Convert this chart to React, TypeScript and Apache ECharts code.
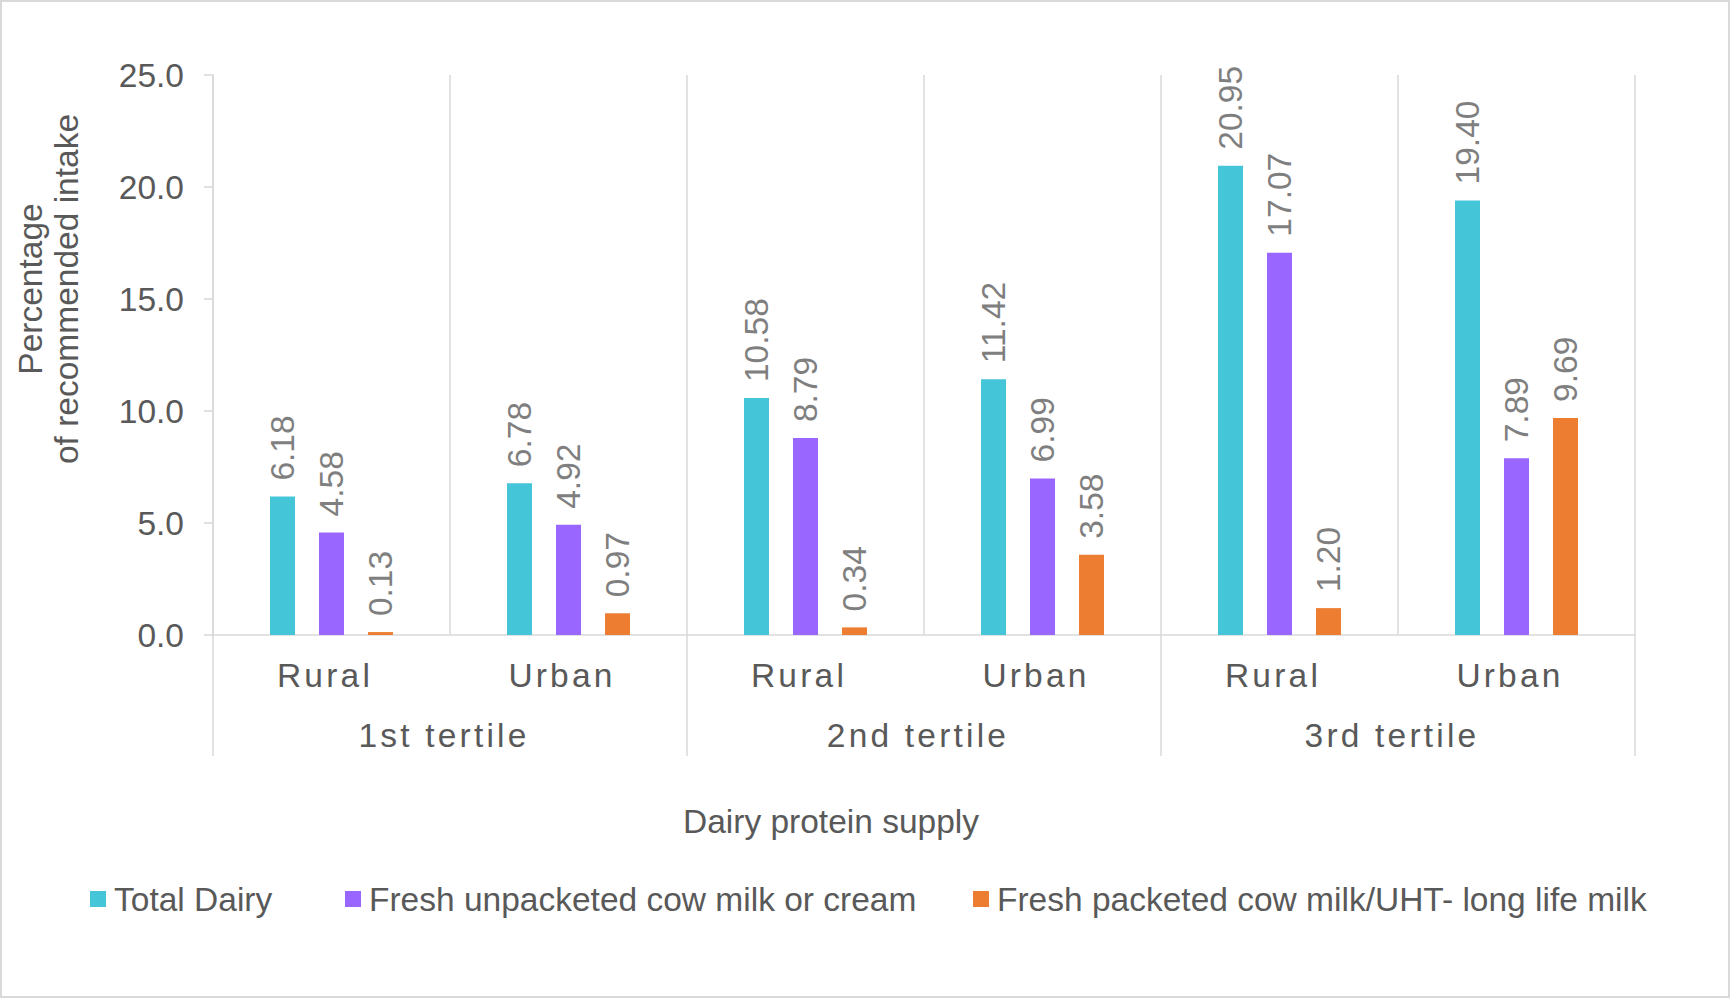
import React, { useEffect, useRef } from "react";
import * as echarts from "echarts";

const subCategories = ["Rural", "Urban", "Rural", "Urban", "Rural", "Urban"];
const tertiles = ["1st tertile", "2nd tertile", "3rd tertile"];
const seriesNames = [
  "Total Dairy",
  "Fresh unpacketed cow milk or cream",
  "Fresh packeted cow milk/UHT- long life milk",
];
const totalDairy = [6.18, 6.78, 10.58, 11.42, 20.95, 19.4];
const freshUnpacketed = [4.58, 4.92, 8.79, 6.99, 17.07, 7.89];
const freshPacketed = [0.13, 0.97, 0.34, 3.58, 1.2, 9.69];
const colors = ["#44C5D8", "#9966FF", "#ED7D31"];
const yTicks = { min: 0, max: 25, interval: 5 };

const FONT = "'Liberation Sans', Arial, sans-serif";
const FS = 33.5;
const legendLefts = [85, 340, 968];

export default function App() {
  const ref = useRef<HTMLDivElement>(null);
  useEffect(() => {
    document.body.style.margin = "0";
    const chart = echarts.init(ref.current!, null, { renderer: "svg" });
    const values = [totalDairy, freshUnpacketed, freshPacketed];
    const option: any = {
      animation: false,
      backgroundColor: "#ffffff",
      textStyle: { fontFamily: FONT },
      grid: { left: 213, right: 96, top: 75, bottom: 364, containLabel: false },
      legend: seriesNames.map((name, i) => ({
        data: [name],
        left: legendLefts[i],
        top: 877,
        icon: "rect",
        itemWidth: 16,
        itemHeight: 16,
        textStyle: { fontSize: FS, color: "#595959", fontFamily: FONT, padding: [0, 0, 0, 3] },
      })),
      xAxis: [
        {
          type: "category",
          data: subCategories,
          position: "bottom",
          axisLine: { show: true, lineStyle: { color: "#D9D9D9", width: 1.5 } },
          axisTick: { show: false },
          axisLabel: { fontSize: FS, color: "#595959", margin: 23, fontFamily: FONT, padding: [0, 13, 0, 0] },
          splitLine: { show: true, interval: 0, lineStyle: { color: "#D9D9D9", width: 1.5 } },
        },
        {
          type: "category",
          data: tertiles,
          position: "bottom",
          axisLine: { show: false },
          axisTick: { show: true, length: 121, interval: 0, lineStyle: { color: "#D9D9D9", width: 1.5 } },
          axisLabel: { fontSize: FS, color: "#595959", margin: 83, fontFamily: FONT, padding: [0, 12, 0, 0] },
          splitLine: { show: false },
        },
      ],
      yAxis: {
        type: "value",
        min: yTicks.min,
        max: yTicks.max,
        interval: yTicks.interval,
        axisLine: { show: true, lineStyle: { color: "#D9D9D9", width: 1.5 } },
        axisTick: { show: true, length: 9, lineStyle: { color: "#D9D9D9", width: 1.5 } },
        axisLabel: {
          fontSize: FS,
          color: "#595959",
          margin: 29,
          fontFamily: FONT,
          formatter: (v: number) => v.toFixed(1),
        },
        splitLine: { show: false },
      },
      series: seriesNames.map((name, i) => ({
        name,
        type: "bar",
        xAxisIndex: 0,
        data: values[i],
        barWidth: 25,
        barGap: "96%",
        itemStyle: { color: colors[i] },
        label: {
          show: true,
          position: "top",
          rotate: 90,
          align: "left",
          verticalAlign: "middle",
          distance: 16,
          fontSize: FS,
          color: "#7F7F7F",
          fontFamily: FONT,
          formatter: (p: any) => Number(p.value).toFixed(2),
        },
      })),
      graphic: [
        {
          type: "rect",
          shape: { x: 1, y: 1, width: 1728, height: 996 },
          style: { fill: "none", stroke: "#D9D9D9", lineWidth: 2 },
          silent: true,
        },
        {
          type: "text",
          x: 48,
          y: 289,
          rotation: Math.PI / 2,
          style: {
            text: "Percentage\nof recommended intake",
            fontSize: FS,
            lineHeight: 36,
            fill: "#595959",
            align: "center",
            verticalAlign: "middle",
            fontFamily: FONT,
          },
        },
        {
          type: "text",
          x: 831,
          y: 821,
          style: {
            text: "Dairy protein supply",
            fontSize: FS,
            fill: "#595959",
            align: "center",
            verticalAlign: "middle",
            fontFamily: FONT,
          },
        },
      ],
    };
    chart.setOption(option);
    const spaced = new Set([...subCategories, ...tertiles]);
    ref.current!.querySelectorAll("text").forEach((t) => {
      if (spaced.has((t.textContent || "").trim())) {
        (t as SVGTextElement).style.letterSpacing = "3.2px";
      }
    });
    return () => chart.dispose();
  }, []);
  return <div ref={ref} style={{ width: 1731, height: 999 }} />;
}
